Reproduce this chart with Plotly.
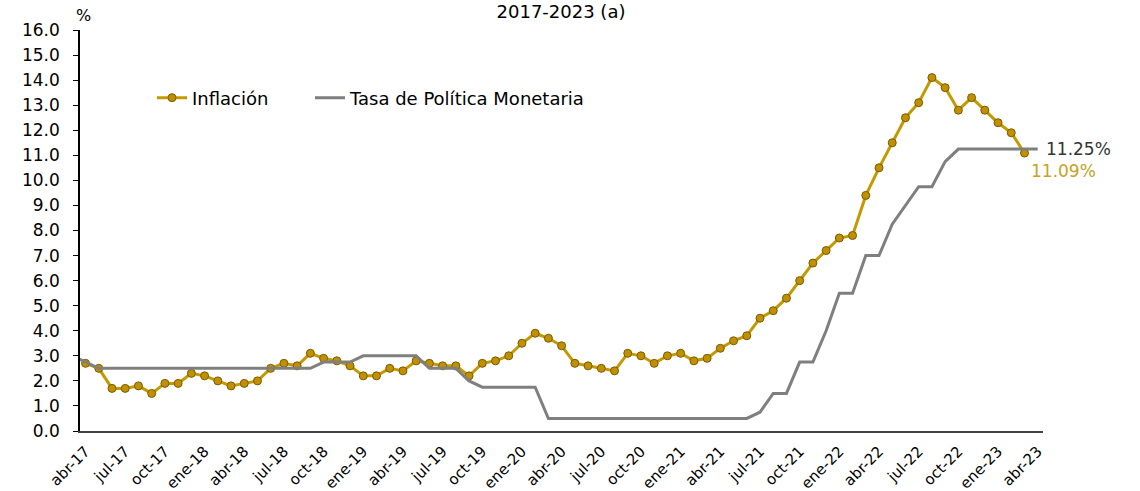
import plotly.graph_objects as go

# Monthly series, index 0 = abr-17
inflation_start = 0   # abr-17
inflation = [2.7, 2.5, 1.7, 1.7, 1.8, 1.5, 1.9, 1.9, 2.3, 2.2,
             2.0, 1.8, 1.9, 2.0, 2.5, 2.7, 2.6, 3.1, 2.9, 2.8,
             2.6, 2.2, 2.2, 2.5, 2.4, 2.8, 2.7, 2.6, 2.6, 2.2,
             2.7, 2.8, 3.0, 3.5, 3.9, 3.7, 3.4, 2.7, 2.6, 2.5,
             2.4, 3.1, 3.0, 2.7, 3.0, 3.1, 2.8, 2.9, 3.3, 3.6,
             3.8, 4.5, 4.8, 5.3, 6.0, 6.7, 7.2, 7.7, 7.8, 9.4,
             10.5, 11.5, 12.5, 13.1, 14.1, 13.7, 12.8, 13.3, 12.8, 12.3,
             11.9, 11.09]

tpm_start = -1        # mar-17
tpm = [3.0, 2.75,
       2.5, 2.5, 2.5, 2.5, 2.5, 2.5, 2.5, 2.5, 2.5, 2.5, 2.5, 2.5, 2.5, 2.5, 2.5, 2.5, 2.5,
       2.75, 2.75, 2.75,
       3.0, 3.0, 3.0, 3.0, 3.0,
       2.5, 2.5, 2.5,
       2.0,
       1.75, 1.75, 1.75, 1.75, 1.75,
       0.5, 0.5, 0.5, 0.5, 0.5, 0.5, 0.5, 0.5, 0.5, 0.5, 0.5, 0.5, 0.5, 0.5, 0.5, 0.5,
       0.75,
       1.5, 1.5,
       2.75, 2.75,
       4.0,
       5.5, 5.5,
       7.0, 7.0,
       8.25, 9.0, 9.75, 9.75, 10.75,
       11.25, 11.25, 11.25, 11.25, 11.25, 11.25, 11.25]

tick_labels = ["abr-17", "jul-17", "oct-17", "ene-18", "abr-18", "jul-18", "oct-18",
               "ene-19", "abr-19", "jul-19", "oct-19", "ene-20", "abr-20", "jul-20",
               "oct-20", "ene-21", "abr-21", "jul-21", "oct-21", "ene-22", "abr-22",
               "jul-22", "oct-22", "ene-23", "abr-23"]
tick_step = 3

y_ticks = [i * 1.0 for i in range(17)]

x_infl = [inflation_start + i for i in range(len(inflation))]
x_tpm = [tpm_start + i for i in range(len(tpm))]

GOLD = "#C49A00"
GOLD_TXT = "#C9A227"
GRAY = "#7F7F7F"
FONT = "DejaVu Sans"

W, H = 1140, 491
L, R, T, B = 80, 97, 30, 60
plot_w = W - L - R
plot_h = H - T - B


def scr_to_paper_x(px):
    return (px - L) / plot_w


def scr_to_paper_y(py):
    return (H - B - py) / plot_h


fig = go.Figure()
fig.add_trace(go.Scatter(
    x=x_infl, y=inflation, name="Inflación", mode="lines+markers",
    line=dict(color=GOLD, width=3),
    marker=dict(size=8, color="#C09000", line=dict(color="#7A5C00", width=1)),
    legend="legend",
))
fig.add_trace(go.Scatter(
    x=x_tpm, y=tpm, name="Tasa de Política Monetaria", mode="lines",
    line=dict(color=GRAY, width=3),
    legend="legend2",
))

fig.add_annotation(x=x_tpm[-1], y=tpm[-1], xref="x", yref="y",
                   text=f"{tpm[-1]:.2f}%", showarrow=False, xanchor="left",
                   yanchor="middle", xshift=6, yshift=0,
                   font=dict(family=FONT, size=17, color="#333333"))
fig.add_annotation(x=x_infl[-1], y=inflation[-1], xref="x", yref="y",
                   text=f"{inflation[-1]:.2f}%", showarrow=False, xanchor="left",
                   yanchor="middle", xshift=5, yshift=-18,
                   font=dict(family=FONT, size=17, color=GOLD_TXT))
fig.add_annotation(x=0, y=1, xref="paper", yref="paper", text="%",
                   showarrow=False, xanchor="center", yanchor="bottom",
                   xshift=3, yshift=3,
                   font=dict(family=FONT, size=16, color="#000000"))

legend_common = dict(orientation="h", xanchor="left", yanchor="middle",
                     font=dict(family=FONT, size=18, color="#000000"),
                     bgcolor="rgba(0,0,0,0)", itemwidth=30)

fig.update_layout(
    width=W, height=H,
    margin=dict(l=L, r=R, t=T, b=B, autoexpand=False),
    paper_bgcolor="white", plot_bgcolor="white",
    font=dict(family=FONT, size=16, color="#000000"),
    title=dict(text="2017-2023 (a)", x=561 / W, xanchor="center",
               y=1 - 12 / H, yanchor="middle",
               font=dict(family=FONT, size=18, color="#000000")),
    showlegend=True,
    legend=dict(x=scr_to_paper_x(152), y=scr_to_paper_y(98), **legend_common),
    legend2=dict(x=scr_to_paper_x(310), y=scr_to_paper_y(98), **legend_common),
    xaxis=dict(
        range=[-0.42, 72.4],
        tickmode="array",
        tickvals=[i * tick_step for i in range(len(tick_labels))],
        ticktext=tick_labels,
        tickangle=-45,
        showgrid=False, zeroline=False,
        showline=True, linecolor="#444444", linewidth=1.5,
        ticks="", ticklabelstandoff=4,
        tickfont=dict(family=FONT, size=15, color="#000000"),
    ),
    yaxis=dict(
        range=[0, 16],
        tickmode="array",
        tickvals=y_ticks,
        ticktext=[f"{v:.1f}" for v in y_ticks],
        showgrid=False, zeroline=False,
        showline=True, linecolor="#000000", linewidth=1.5,
        ticks="outside", ticklen=5, tickcolor="#000000", tickwidth=1.2,
        ticklabelstandoff=10,
        tickfont=dict(family=FONT, size=17, color="#000000"),
    ),
)

fig.write_html("out.html",
               config={"displayModeBar": False},
               post_script="document.body.style.margin='0';document.body.style.overflow='hidden';")
